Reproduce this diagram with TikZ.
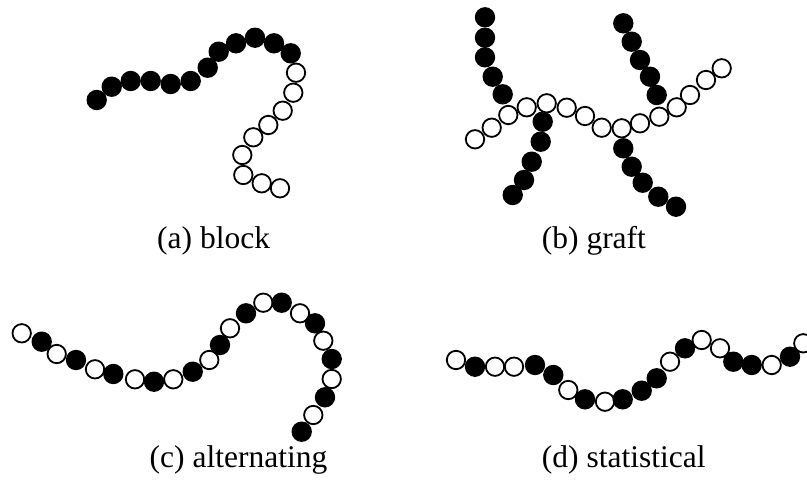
\documentclass[tikz,border=0pt]{standalone}
\usepackage{fontspec}
\setmainfont{Liberation Serif}
\begin{document}
\begin{tikzpicture}[x=1pt,y=-1pt,
  bead/.style={circle,inner sep=0pt,outer sep=0pt},
  filled/.style={bead,fill=black,minimum size=20.4pt},
  hollow/.style={bead,draw=black,fill=white,line width=1.8pt,minimum size=18.4pt},
  caption/.style={anchor=base west,inner sep=0pt,font=\fontsize{31.5}{36}\selectfont}]
\useasboundingbox (0,0) rectangle (807,482);
\clip (0,0) rectangle (807,482);

% (a) block copolymer: a filled block followed by an open block
\foreach \x/\y [count=\i] in {96.7/100,111.7/86.7,130.7/81,150.7/81,170.7/84,190.7/81,
    207.7/67.7,218.7/51.7,236/43.3,255/37.7,274/43.3,290.7/53.3}
  \node[filled] (a\i) at (\x,\y) {};
\foreach \x/\y [count=\i from 13] in {296/72.7,293.3/92.7,282.7/110.7,268.3/125,253.3/137.3,
    242.3/155,243.3/175,261.7/183.3,280/188.3}
  \node[hollow] (a\i) at (\x,\y) {};
\node[caption] (capa) at (157,248.5) {(a) block};

% (b) graft copolymer: four filled side chains on an open backbone
\foreach \x/\y [count=\i] in {485/17.3,485/37.7,485/57.3,492.7/76.7,502.7/94.3}
  \node[filled] (bl\i) at (\x,\y) {};
\foreach \x/\y [count=\i] in {542.7/121.7,540.7/141.7,531.7/161.7,524/180,512.7/195}
  \node[filled] (bm\i) at (\x,\y) {};
\foreach \x/\y [count=\i] in {623.3/23.3,631.7/41.7,640/60,650/76.7,656.7/95}
  \node[filled] (br\i) at (\x,\y) {};
\foreach \x/\y [count=\i] in {623.3/148.3,631.7/166.7,642.7/182.7,658.3/196.7,676/206.7}
  \node[filled] (bs\i) at (\x,\y) {};
\foreach \x/\y [count=\i] in {475/139.3,491.7/127.7,508.3/115,526.7/107.3,546.7/103.3,
    566.7/107.7,585/116,601.7/127.7,621.7/128.3,640/123.3,659.3/116.7,676.7/107.3,
    690/95,706/80,721.7/68.3}
  \node[hollow] (bb\i) at (\x,\y) {};
\node[caption] (capb) at (541.7,248.5) {(b) graft};

% (c) alternating copolymer
\foreach \x/\y/\k [count=\i] in {21.7/333.3/hollow,41.7/341.7/filled,56.7/354/hollow,
    76/360/filled,95/369.3/hollow,113.3/374/filled,135/379.3/hollow,154/381.7/filled,
    173.3/379.3/hollow,192.7/371.7/filled,209.3/360/hollow,220/345/filled,
    230/328.3/hollow,246/313.3/filled,263.3/302.7/hollow,281.7/302.7/filled,
    300/313.3/hollow,315/323.3/filled,323.3/340.7/hollow,331.7/359/filled,
    331.7/379/hollow,325/397.3/filled,313.3/415/hollow,301.7/431.7/filled}
  \node[\k] (c\i) at (\x,\y) {};
\node[caption] (capc) at (149.5,467) {(c) alternating};

% (d) statistical copolymer
\foreach \x/\y/\k [count=\i] in {456/360/hollow,475/366.7/filled,495/366.7/hollow,
    514/366.7/hollow,535/365/filled,553.3/375/filled,568.3/390/hollow,585/399.3/filled,
    605/401.7/hollow,622.7/399.3/filled,641.7/390.7/filled,656.7/378.3/filled,
    670/361.7/hollow,685/348.3/filled,701.7/340/hollow,720/348.3/hollow,
    733.3/361.7/filled,751.7/365/filled,771.7/365/hollow,790/356.7/filled,
    803.3/343.3/hollow}
  \node[\k] (d\i) at (\x,\y) {};
\node[caption] (capd) at (541.7,467) {(d) statistical};
\end{tikzpicture}
\end{document}
